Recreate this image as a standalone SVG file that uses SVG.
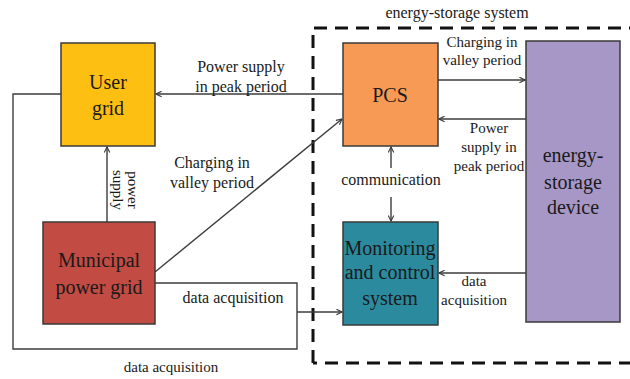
<svg xmlns="http://www.w3.org/2000/svg" width="630" height="379" viewBox="0 0 630 379">
<defs>
<style>
.box{stroke:#3a3a3a;stroke-width:1.5}
.ln{fill:none;stroke:#3c3c3c;stroke-width:1.4}
.arr{marker-end:url(#ah)}
text{font-family:"Liberation Serif","Times New Roman",serif;fill:#1a1a1a;text-anchor:middle}
.n{font-size:20px}
.l{font-size:16px}
.s{font-size:15px}
</style>
<marker id="ah" viewBox="0 0 10 10" refX="9" refY="5" markerWidth="7" markerHeight="7" markerUnits="userSpaceOnUse" orient="auto">
<path d="M1,1 L9,5 L1,9" fill="none" stroke="#3c3c3c" stroke-width="1.6"/>
</marker>
</defs>
<rect width="630" height="379" fill="#ffffff"/>
<g id="storage-system">
<path d="M313,363 L313,28 L632,28 M632,363 L313,363" fill="none" stroke="#111" stroke-width="3" stroke-dasharray="13 8"/>
<text class="l" x="457" y="18">energy-storage system</text>
</g>
<g id="connectors">
<path class="ln arr" d="M343,94 L156,94"/>
<text class="l" x="241" y="72">Power supply</text>
<text class="l" x="241" y="92">in peak period</text>
<path class="ln arr" d="M155,272 L342,119"/>
<text class="l" x="212" y="168">Charging in</text>
<text class="l" x="212" y="188">valley period</text>
<path class="ln arr" d="M107,222 L107,147"/>
<text class="s" transform="translate(128,190) rotate(90)">power</text>
<text class="s" transform="translate(113,190) rotate(90)">supply</text>
<path class="ln arr" d="M438,80 L525,80"/>
<text class="s" x="482" y="47">Charging in</text>
<text class="s" x="482" y="65">valley period</text>
<path class="ln arr" d="M526,119 L439,119"/>
<text class="s" x="489" y="133">Power</text>
<text class="s" x="489" y="152">supply in</text>
<text class="s" x="489" y="171">peak period</text>
<path class="ln arr" d="M391,168 L391,147"/>
<path class="ln arr" d="M391,197 L391,221"/>
<text class="l" x="391" y="185">communication</text>
<path class="ln arr" d="M526,273 L439,273"/>
<text class="s" x="474" y="286">data</text>
<text class="s" x="474" y="305">acquisition</text>
<path class="ln" d="M155,283 L297,283 L297,349 L13,349 L13,94 L61,94"/>
<path class="ln arr" d="M297,312 L342,312"/>
<text class="l" x="233" y="303">data acquisition</text>
<text class="s" x="171" y="372">data acquisition</text>
</g>
<g id="user-grid">
<rect class="box" x="61" y="43" width="94" height="103" fill="#FDBF12"/>
<text class="n" x="108" y="89">User</text>
<text class="n" x="108" y="115">grid</text>
</g>
<g id="pcs">
<rect class="box" x="343" y="43" width="95" height="103" fill="#F79A55"/>
<text class="n" x="390" y="102">PCS</text>
</g>
<g id="municipal-grid">
<rect class="box" x="43" y="222" width="112" height="102" fill="#C24B43"/>
<text class="n" x="99" y="267">Municipal</text>
<text class="n" x="99" y="294">power grid</text>
</g>
<g id="monitoring">
<rect class="box" x="343" y="222" width="95" height="103" fill="#2B8A9E"/>
<text class="n" x="390" y="255">Monitoring</text>
<text class="n" x="390" y="279">and control</text>
<text class="n" x="390" y="305">system</text>
</g>
<g id="storage-device">
<rect class="box" x="526" y="41" width="94" height="281" fill="#A797C6"/>
<text class="n" x="573" y="162">energy-</text>
<text class="n" x="573" y="189">storage</text>
<text class="n" x="573" y="214">device</text>
</g>
</svg>
